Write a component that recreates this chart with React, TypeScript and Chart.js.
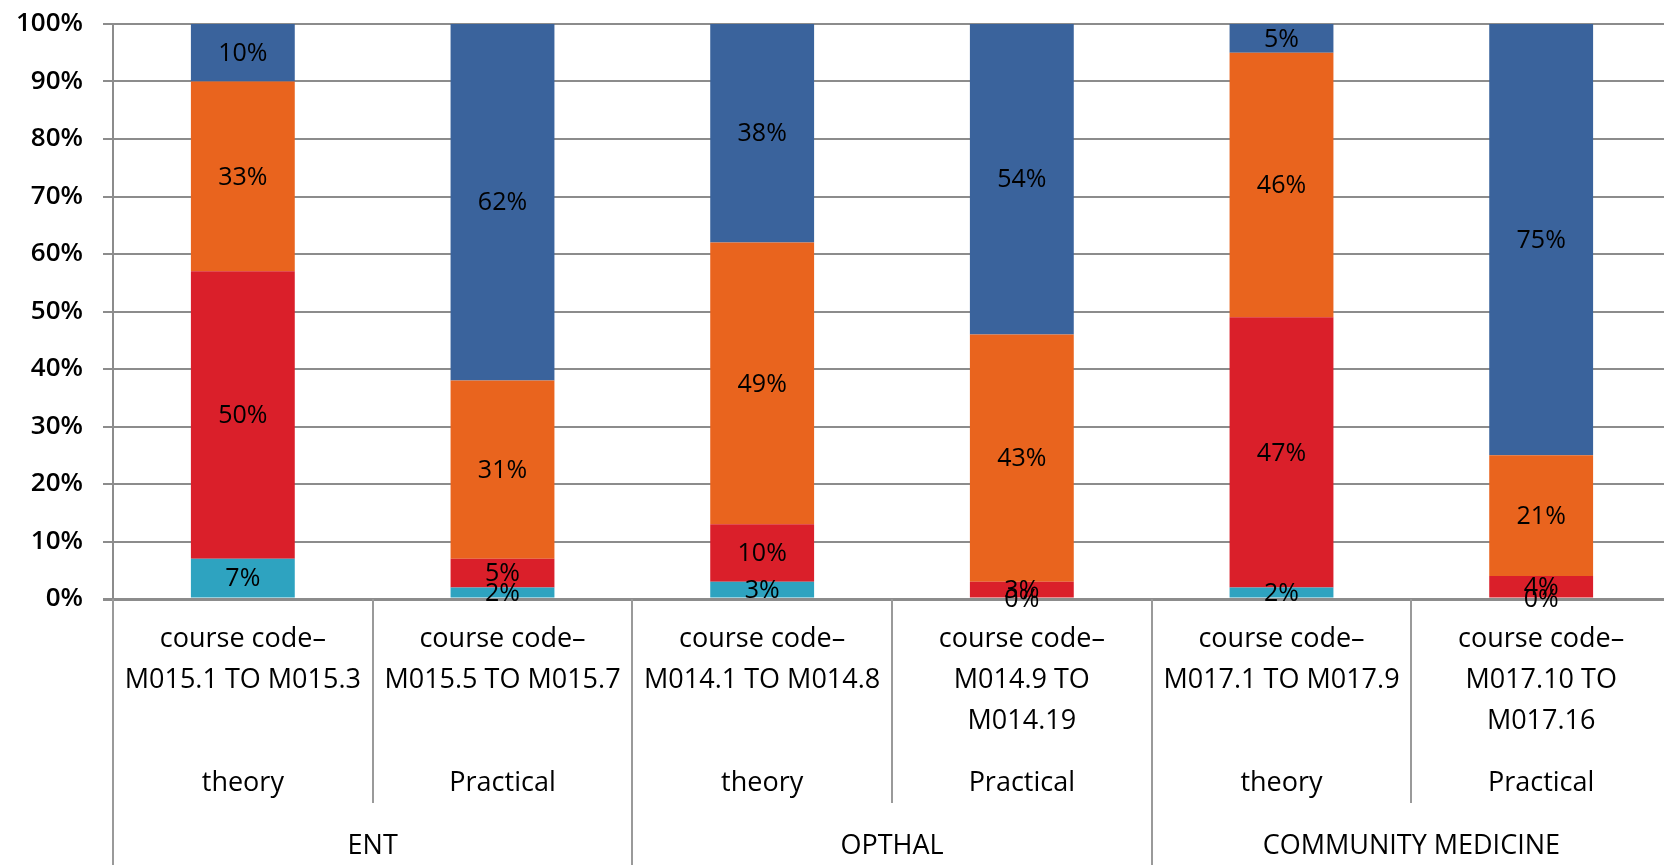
import React, { useEffect, useRef } from "react";
import { Chart, registerables } from "chart.js";

Chart.register(...registerables);

const courseCodes: string[][] = [
  ["course code–", "M015.1 TO M015.3"],
  ["course code–", "M015.5 TO M015.7"],
  ["course code–", "M014.1 TO M014.8"],
  ["course code–", "M014.9 TO", "M014.19"],
  ["course code–", "M017.1 TO M017.9"],
  ["course code–", "M017.10 TO", "M017.16"],
];
const sessionTypes = ["theory", "Practical", "theory", "Practical", "theory", "Practical"];
const groupNames = ["ENT", "OPTHAL", "COMMUNITY MEDICINE"];

const seriesCyan = [7, 2, 3, 0, 2, 0];
const seriesRed = [50, 5, 10, 3, 47, 4];
const seriesOrange = [33, 31, 49, 43, 46, 21];
const seriesBlue = [10, 62, 38, 54, 5, 75];

const yTicks = [0, 10, 20, 30, 40, 50, 60, 70, 80, 90, 100];

const FONT = "'Open Sans', 'DejaVu Sans', sans-serif";

const dataLabelPlugin = {
  id: "dataLabels",
  afterDatasetsDraw(chart: any) {
    const ctx = chart.ctx;
    ctx.save();
    ctx.font = `25px ${FONT}`;
    ctx.fillStyle = "#000";
    ctx.textAlign = "center";
    ctx.textBaseline = "middle";
    chart.data.datasets.forEach((ds: any, di: number) => {
      const meta = chart.getDatasetMeta(di);
      meta.data.forEach((el: any, i: number) => {
        const v = ds.data[i];
        const y = (el.y + el.base) / 2;
        ctx.fillText(v + "%", el.x, y + 1);
      });
    });
    ctx.restore();
  },
};

const categoryAxisPlugin = {
  id: "categoryAxis",
  afterDraw(chart: any) {
    const ctx = chart.ctx;
    const xs = chart.scales.x;
    const area = chart.chartArea;
    const bottom = area.bottom;
    const H = chart.height;
    const n = courseCodes.length;
    const centers = courseCodes.map((_, i) => xs.getPixelForValue(i));
    const step = n > 1 ? centers[1] - centers[0] : area.right - area.left;
    const boundary = (k: number) => centers[0] - step / 2 + k * step;

    ctx.save();
    ctx.strokeStyle = "#9a9a9a";
    ctx.lineWidth = 2;
    for (let k = 1; k < n; k += 2) {
      const x = Math.round(boundary(k));
      ctx.beginPath();
      ctx.moveTo(x, bottom);
      ctx.lineTo(x, bottom + 204);
      ctx.stroke();
    }
    for (let k = 0; k <= n; k += 2) {
      const x = Math.round(boundary(k));
      ctx.beginPath();
      ctx.moveTo(x, bottom);
      ctx.lineTo(x, H);
      ctx.stroke();
    }

    ctx.fillStyle = "#000";
    ctx.textAlign = "center";
    ctx.textBaseline = "middle";
    ctx.font = `27px ${FONT}`;
    courseCodes.forEach((lines, i) => {
      lines.forEach((ln, j) => {
        ctx.fillText(ln, centers[i], bottom + 40 + j * 41);
      });
      ctx.fillText(sessionTypes[i], centers[i], bottom + 184);
    });
    groupNames.forEach((g, gi) => {
      const cx = (boundary(gi * 2) + boundary(gi * 2 + 2)) / 2;
      ctx.fillText(g, cx, bottom + 247);
    });
    ctx.restore();
  },
};

export default function App() {
  const ref = useRef<HTMLCanvasElement | null>(null);
  useEffect(() => {
    document.body.style.overflow = "hidden";
    const canvas = ref.current!;
    const chart = new Chart(canvas, {
      type: "bar",
      data: {
        labels: courseCodes.map((l) => l.join(" ")),
        datasets: [
          { label: "cyan", data: seriesCyan, backgroundColor: "#2EA3C0" },
          { label: "red", data: seriesRed, backgroundColor: "#DA1F2A" },
          { label: "orange", data: seriesOrange, backgroundColor: "#E9641E" },
          { label: "blue", data: seriesBlue, backgroundColor: "#3A639C" },
        ].map((d) => ({
          ...d,
          barPercentage: 0.4,
          categoryPercentage: 1,
          borderWidth: 0,
        })),
      },
      options: {
        animation: false,
        responsive: false,
        devicePixelRatio: 1,
        layout: { padding: { top: 24, left: 0, right: 0, bottom: 0 } },
        plugins: { legend: { display: false }, tooltip: { enabled: false } },
        scales: {
          x: {
            stacked: true,
            ticks: { display: false },
            grid: { display: false },
            border: { display: false },
            afterFit: (s: any) => {
              s.height = 266;
              s.paddingLeft = 0;
              s.paddingRight = 0;
            },
          },
          y: {
            stacked: true,
            min: 0,
            max: 100,
            afterBuildTicks: (s: any) => {
              s.ticks = yTicks.map((v) => ({ value: v }));
            },
            ticks: {
              callback: (v: any) => v + "%",
              color: "#000",
              padding: 20,
              font: { family: FONT, size: 26, weight: "600" },
            },
            grid: {
              color: "#8c8c8c",
              lineWidth: (c: any) => (c.tick && c.tick.value === 0 ? 3 : 2),
              tickLength: 10,
              drawTicks: true,
            },
            border: { display: true, color: "#8c8c8c", width: 2 },
            afterFit: (s: any) => {
              s.width = 113;
              s.paddingTop = 0;
              s.paddingBottom = 0;
            },
          },
        },
      },
      plugins: [dataLabelPlugin, categoryAxisPlugin],
    });
    return () => chart.destroy();
  }, []);
  return (
    <div style={{ position: "fixed", left: 0, top: 0, width: 1671, height: 865, background: "#fff" }}>
      <canvas ref={ref} width={1671} height={865} style={{ width: 1671, height: 865, display: "block" }} />
    </div>
  );
}
